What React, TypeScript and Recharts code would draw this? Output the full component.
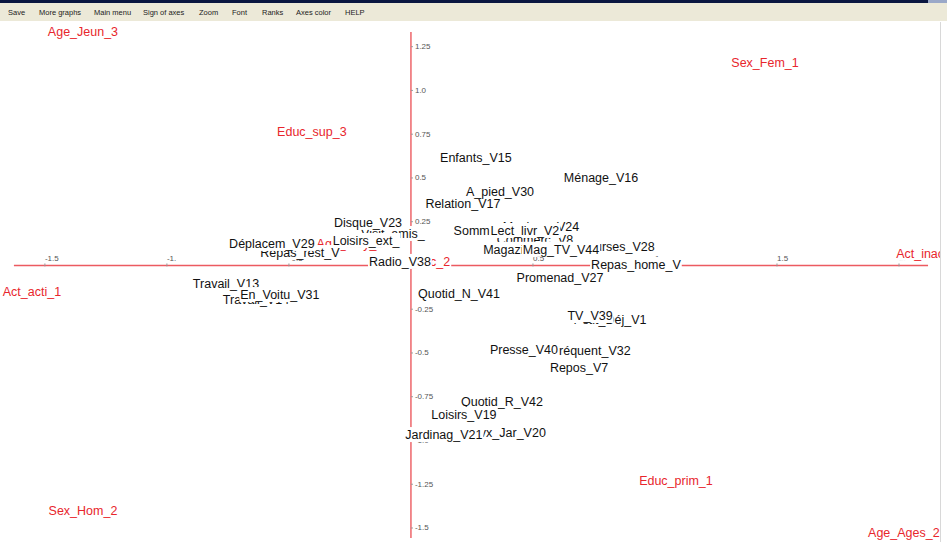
import { ScatterChart, Scatter, XAxis, YAxis } from 'recharts'

// factor map, axis 1 (x) vs axis 2 (y)
const menuItems = ['Save', 'More graphs', 'Main menu', 'Sign of axes', 'Zoom', 'Font', 'Ranks', 'Axes color', 'HELP']
const menuLeft = [8, 39, 94, 143, 199, 232, 262, 296, 345]

// illustrative categories (red)
const supNames = ['Age_Jeun_3', 'Sex_Fem_1', 'Educ_sup_3', 'Act_acti_1', 'Act_inac_2', 'Educ_sec_2', 'Age_Moy_1', 'Sex_Hom_2', 'Educ_prim_1', 'Age_Ages_2']
const supX = [-1.344, 1.451, -0.406, -1.553, 2.115, 0.02, -0.25, -1.344, 1.086, 2.02]
const supY = [1.334, 1.157, 0.763, -0.151, 0.066, 0.02, 0.123, -1.403, -1.231, -1.529]

// active categories (black), in drawing order: later labels hide earlier ones
const actNames = [
  'Travail_V14', 'Travail_V13', 'En_Voitu_V31', 'Repas_rest_V', 'Déplacem_V29', 'Visit_amis_', 'Disque_V23',
  'Loisirs_ext_', 'Radio_V38', 'Enfants_V15', 'Ménage_V16', 'Relation_V17', 'A_pied_V30', 'Sommeil_V6',
  'Commerc_V8', 'Musique_V24', 'Lect_livr_V2', 'Magazine_V43', 'Courses_V28', 'Mag_TV_V44', 'Repas_home_V',
  'Promenad_V27', 'Quotid_N_V41', 'Petit_Déj_V1', 'TV_V39', 'Fréquent_V32', 'Presse_V40', 'Repos_V7',
  'Quotid_R_V42', 'Loisirs_V19', 'Tvx_Jar_V20', 'Jardinag_V21',
]
const actX = [
  -0.635, -0.758, -0.537, -0.455, -0.57, -0.074, -0.176,
  -0.184, -0.045, 0.266, 0.779, 0.213, 0.365, 0.32,
  0.508, 0.533, 0.467, 0.467, 0.844, 0.615, 0.922,
  0.611, 0.197, 0.816, 0.734, 0.738, 0.463, 0.689,
  0.373, 0.217, 0.402, 0.135,
]
const actY = [
  -0.197, -0.106, -0.169, 0.071, 0.123, 0.18, 0.243,
  0.14, 0.02, 0.614, 0.5, 0.351, 0.42, 0.197,
  0.146, 0.22, 0.197, 0.089, 0.106, 0.089, 0.003,
  -0.071, -0.163, -0.311, -0.289, -0.489, -0.483, -0.586,
  -0.78, -0.854, -0.957, -0.969,
]

const xTickValues = [-1.5, -1, -0.5, 0.5, 1, 1.5, 2]
const xTickLabels = ['-1.5', '-1.', '-0.5', '0.5', '1.', '1.5', '2.']
const yTickValues = [1.25, 1, 0.75, 0.5, 0.25, -0.25, -0.5, -0.75, -1, -1.25, -1.5]
const yTickLabels = ['1.25', '1.0', '0.75', '0.5', '0.25', '-0.25', '-0.5', '-0.75', '-1.0', '-1.25', '-1.5']

const hAxis = [{ x: -1.627, y: 0 }, { x: 2.119, y: 0 }]
const vAxis = [{ x: 0, y: 1.334 }, { x: 0, y: -1.557 }]

const RED = '#e8262c'
const AXIS = '#ec5a60'
const FONT = '"Liberation Sans", Arial, sans-serif'
const LABEL_SIZE = 12.5

const ctx = typeof document !== 'undefined' ? document.createElement('canvas').getContext('2d') : null
function textWidth(s: string) {
  if (!ctx) return s.length * 7
  ctx.font = `${LABEL_SIZE}px ${FONT}`
  return ctx.measureText(s).width
}

const supData = supNames.map((name, i) => ({ name, x: supX[i], y: supY[i] }))
const actData = actNames.map((name, i) => ({ name, x: actX[i], y: actY[i] }))
const xTickData = xTickValues.map((v, i) => ({ x: v, y: 0, label: xTickLabels[i] }))
const yTickData = yTickValues.map((v, i) => ({ x: 0, y: v, label: yTickLabels[i] }))

function makeLabel(color: string) {
  return (props: any) => {
    const { cx, cy, payload } = props
    const w = textWidth(payload.name)
    return (
      <g>
        <rect x={cx - w / 2 - 1} y={cy - 8} width={w + 2} height={15} fill="#fff" />
        <text x={cx} y={cy} textAnchor="middle" dominantBaseline="central" fontSize={LABEL_SIZE} fontFamily={FONT} fill={color}>
          {payload.name}
        </text>
      </g>
    )
  }
}

const XTick = (props: any) => {
  const { cx, cy, payload } = props
  return (
    <g>
      <line x1={cx} x2={cx} y1={cy - 2} y2={cy + 1} stroke="#999" />
      <text x={cx} y={cy - 4} fontSize={8} fontFamily={FONT} fill="#555">{payload.label}</text>
    </g>
  )
}

const YTick = (props: any) => {
  const { cx, cy, payload } = props
  return (
    <g>
      <line x1={cx} x2={cx + 2} y1={cy} y2={cy} stroke="#999" />
      <text x={cx + 4} y={cy} dominantBaseline="central" fontSize={8} fontFamily={FONT} fill="#555">{payload.label}</text>
    </g>
  )
}

const NoDot = () => <g />

export default function App() {
  return (
    <div style={{ position: 'fixed', left: 0, top: 0, width: 947, height: 542, background: '#fff', overflow: 'hidden' }}>
      <div style={{ position: 'absolute', left: 0, top: 0, width: 928, height: 3, background: '#0a1640' }} />
      <div style={{ position: 'absolute', left: 928, top: 0, width: 19, height: 3, background: '#9aa8c8' }} />
      <div style={{ position: 'absolute', left: 0, top: 3, width: 947, height: 18, background: '#ece9d8' }}>
        {menuItems.map((m, i) => (
          <span key={m} style={{ position: 'absolute', left: menuLeft[i], top: 5, fontSize: 7.5, fontFamily: FONT, color: '#222', whiteSpace: 'nowrap' }}>
            {m}
          </span>
        ))}
      </div>
      <div style={{ position: 'absolute', left: 0, top: 22, width: 940, height: 520, overflow: 'hidden' }}>
        <ScatterChart width={940} height={520} margin={{ top: 0, right: 0, bottom: 0, left: 0 }}>
          <XAxis type="number" dataKey="x" domain={[-1.684, 2.168]} allowDataOverflow hide />
          <YAxis type="number" dataKey="y" domain={[-1.58, 1.391]} allowDataOverflow hide />
          <Scatter data={hAxis} fill={AXIS} line={{ stroke: AXIS, strokeWidth: 1.6 }} shape={NoDot} isAnimationActive={false} />
          <Scatter data={vAxis} fill={AXIS} line={{ stroke: AXIS, strokeWidth: 1.4 }} shape={NoDot} isAnimationActive={false} />
          <Scatter data={xTickData} shape={XTick} isAnimationActive={false} />
          <Scatter data={yTickData} shape={YTick} isAnimationActive={false} />
          <Scatter data={supData} shape={makeLabel(RED)} isAnimationActive={false} />
          <Scatter data={actData} shape={makeLabel('#111')} isAnimationActive={false} />
        </ScatterChart>
      </div>
      <div style={{ position: 'absolute', left: 940, top: 22, width: 1, height: 520, background: '#d8d8d8' }} />
    </div>
  )
}
